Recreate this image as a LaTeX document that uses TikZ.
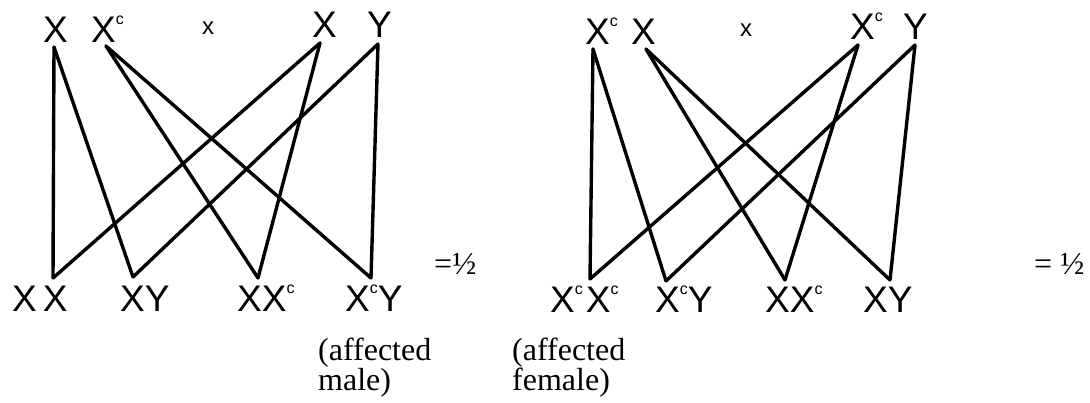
\documentclass[tikz,border=0pt]{standalone}
\usepackage{fontspec}
\setmainfont{Liberation Serif}
\newfontfamily\arialf{Liberation Sans}
\newcommand\Xc{X\raisebox{18pt}{\fontsize{16}{16}\selectfont c}}
\tikzset{
  gam/.style={font=\arialf\fontsize{37}{37}\selectfont,inner sep=0pt,anchor=base west},
  crs/.style={font=\arialf\fontsize{24}{24}\selectfont,inner sep=0pt,anchor=base west},
  capt/.style={font=\fontsize{32}{30}\selectfont,inner sep=0pt,anchor=base west,align=left},
  frac/.style={font=\fontsize{32}{32}\selectfont,inner sep=0pt,anchor=base west},
  lnk/.style={line width=3.4pt,line cap=round,line join=round},
}
\begin{document}
\begin{tikzpicture}[x=1pt,y=-1pt]
  \useasboundingbox (0,0) rectangle (1090,403);
  \begin{scope}
  \node[gam] (lpX) at (43,43) {X};
  \node[gam] (lpXc) at (91,43) {\Xc};
  \node[crs] (lcr) at (202,35) {x};
  \node[gam] (lpX2) at (312,38) {X};
  \node[gam] (lpY) at (367,38) {Y};
  \node[gam] (lXX) at (12,312) {X\kern6pt X};
  \node[gam] (lXY) at (120,312) {XY};
  \node[gam] (lXXc) at (237,312) {X\Xc};
  \node[gam] (lXcY) at (345,312) {\Xc Y};
  \node[frac] (lhalf) at (434,275) {=\char"00BD};
  \node[capt] (lnote) at (318,390) {(affected\\male)};
  \coordinate (ta) at (54,47);
  \coordinate (tb) at (106,46);
  \coordinate (tc) at (320,43);
  \coordinate (td) at (378,44);
  \coordinate (ba) at (53,278);
  \coordinate (bb) at (133,277);
  \coordinate (bc) at (258,278);
  \coordinate (bd) at (371,278);
  \draw[lnk] (ta) -- (ba);
  \draw[lnk] (ta) -- (bb);
  \draw[lnk] (tb) -- (bc);
  \draw[lnk] (tb) -- (bd);
  \draw[lnk] (tc) -- (ba);
  \draw[lnk] (tc) -- (bc);
  \draw[lnk] (td) -- (bb);
  \draw[lnk] (td) -- (bd);
  \end{scope}
  \begin{scope}
  \node[gam] (rpXc) at (585,45) {\Xc};
  \node[gam] (rpX) at (631,45) {X};
  \node[crs] (rcr) at (740,37) {x};
  \node[gam] (rpXc2) at (850,40) {\Xc};
  \node[gam] (rpY) at (903,40) {Y};
  \node[gam] (rXcXc) at (550,313) {\Xc\kern3pt\Xc};
  \node[gam] (rXcY) at (655,313) {\Xc Y};
  \node[gam] (rXXc) at (765,313) {X\Xc};
  \node[gam] (rXY) at (863,313) {XY};
  \node[frac] (rhalf) at (1034,275) {= \char"00BD};
  \node[capt] (rnote) at (512,391) {(affected\\female)};
  \coordinate (ta) at (593,49);
  \coordinate (tb) at (646,49);
  \coordinate (tc) at (858,45);
  \coordinate (td) at (915,45);
  \coordinate (ba) at (590,279);
  \coordinate (bb) at (666,281);
  \coordinate (bc) at (785,280);
  \coordinate (bd) at (890,280);
  \draw[lnk] (ta) -- (ba);
  \draw[lnk] (ta) -- (bb);
  \draw[lnk] (tb) -- (bc);
  \draw[lnk] (tb) -- (bd);
  \draw[lnk] (tc) -- (ba);
  \draw[lnk] (tc) -- (bc);
  \draw[lnk] (td) -- (bb);
  \draw[lnk] (td) -- (bd);
  \end{scope}
\end{tikzpicture}
\end{document}
